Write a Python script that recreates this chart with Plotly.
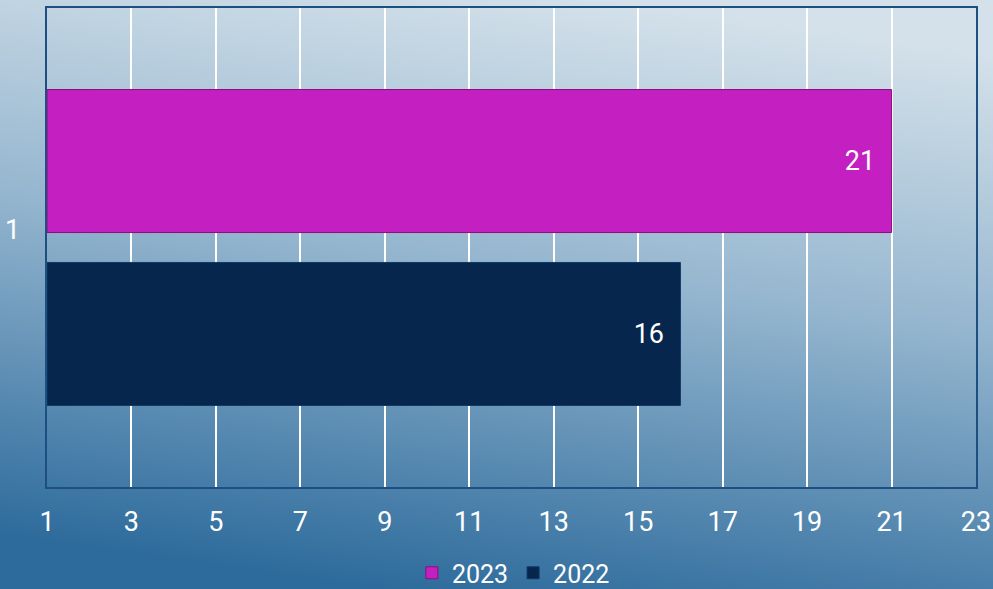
import base64
import plotly.graph_objects as go

# ---- data ----
categories = ["1"]
series_names = ["2023", "2022"]
values_2023 = [21]
values_2022 = [16]
x_tick_vals = [1, 3, 5, 7, 9, 11, 13, 15, 17, 19, 21, 23]
x_min, x_max = 1, 23

W, H = 993, 589
FONT = "Roboto"
FS = 27
LFS = 25

# background gradient as an SVG image
svg = f'''<svg xmlns="http://www.w3.org/2000/svg" width="{W}" height="{H}" viewBox="0 0 {W} {H}" preserveAspectRatio="none">
<defs><linearGradient id="g" x1="0.62" y1="0" x2="0.38" y2="1">
<stop offset="0" stop-color="#d4e1ea"/>
<stop offset="0.45" stop-color="#95b6cf"/>
<stop offset="1" stop-color="#2d6b9c"/>
</linearGradient></defs>
<rect width="{W}" height="{H}" fill="url(#g)"/></svg>'''
bg_src = "data:image/svg+xml;base64," + base64.b64encode(svg.encode()).decode()

fig = go.Figure()
fig.add_trace(go.Bar(
    name=series_names[1], y=categories, x=[v - x_min for v in values_2022], base=x_min,
    orientation="h",
    marker=dict(color="#07264e", line=dict(color="#0f3a66", width=1)),
    text=[str(v) for v in values_2022], texttemplate="%{text}\u00a0\u00a0",
    textposition="inside", insidetextanchor="end",
    textfont=dict(color="white", size=FS, family=FONT),
    hoverinfo="skip",
))
fig.add_trace(go.Bar(
    name=series_names[0], y=categories, x=[v - x_min for v in values_2023], base=x_min,
    orientation="h",
    marker=dict(color="#c41fc0", line=dict(color="#8a0f78", width=1)),
    text=[str(v) for v in values_2023], texttemplate="%{text}\u00a0\u00a0",
    textposition="inside", insidetextanchor="end",
    textfont=dict(color="white", size=FS, family=FONT),
    hoverinfo="skip",
))

x0, x1 = 47 / W, 976 / W
y0, y1 = 1 - 487 / H, 1 - 8 / H

fig.update_layout(
    autosize=True,
    margin=dict(l=0, r=0, t=0, b=0, autoexpand=False),
    paper_bgcolor="#6f9cc0",
    plot_bgcolor="rgba(0,0,0,0)",
    barmode="group", bargap=0.278, bargroupgap=0.173,
    font=dict(family=FONT, color="white", size=FS),
    showlegend=True,
    legend=dict(orientation="h", x=0.517, xanchor="center", y=1 - 573 / H, yanchor="middle",
                traceorder="reversed", font=dict(size=LFS, color="white"),
                bgcolor="rgba(0,0,0,0)", itemwidth=30, tracegroupgap=0),
    images=[dict(source=bg_src, xref="paper", yref="paper", x=0, y=1, sizex=1, sizey=1,
                 sizing="stretch", layer="below", xanchor="left", yanchor="top")],
    xaxis=dict(domain=[x0, x1], range=[x_min, x_max], tickvals=x_tick_vals,
               showgrid=True, gridcolor="white", gridwidth=2, automargin=False,
               showline=True, linecolor="#1d5080", linewidth=2, mirror=True,
               ticks="", ticklabelstandoff=10, zeroline=False,
               tickfont=dict(size=FS, color="white", family=FONT)),
    yaxis=dict(domain=[y0, y1], showticklabels=False, showgrid=False, automargin=False,
               showline=True, linecolor="#1d5080", linewidth=2, mirror=True,
               ticks="", zeroline=False),
    annotations=[dict(text=categories[0], xref="paper", yref="paper",
                      x=12 / W, y=1 - 230 / H, xanchor="center", yanchor="middle",
                      showarrow=False, font=dict(size=FS, color="white", family=FONT))],
)

post = """
document.documentElement.style.overflow='hidden';
document.documentElement.style.margin='0';
document.body.style.margin='0';
document.body.style.overflow='hidden';
var gd=document.getElementById('{plot_id}');
gd.style.width='100vw'; gd.style.height='100vh';
Plotly.Plots.resize(gd);
"""

fig.write_html("out.html", config={"displayModeBar": False, "responsive": True},
               default_width="100vw", default_height="100vh", post_script=post)
